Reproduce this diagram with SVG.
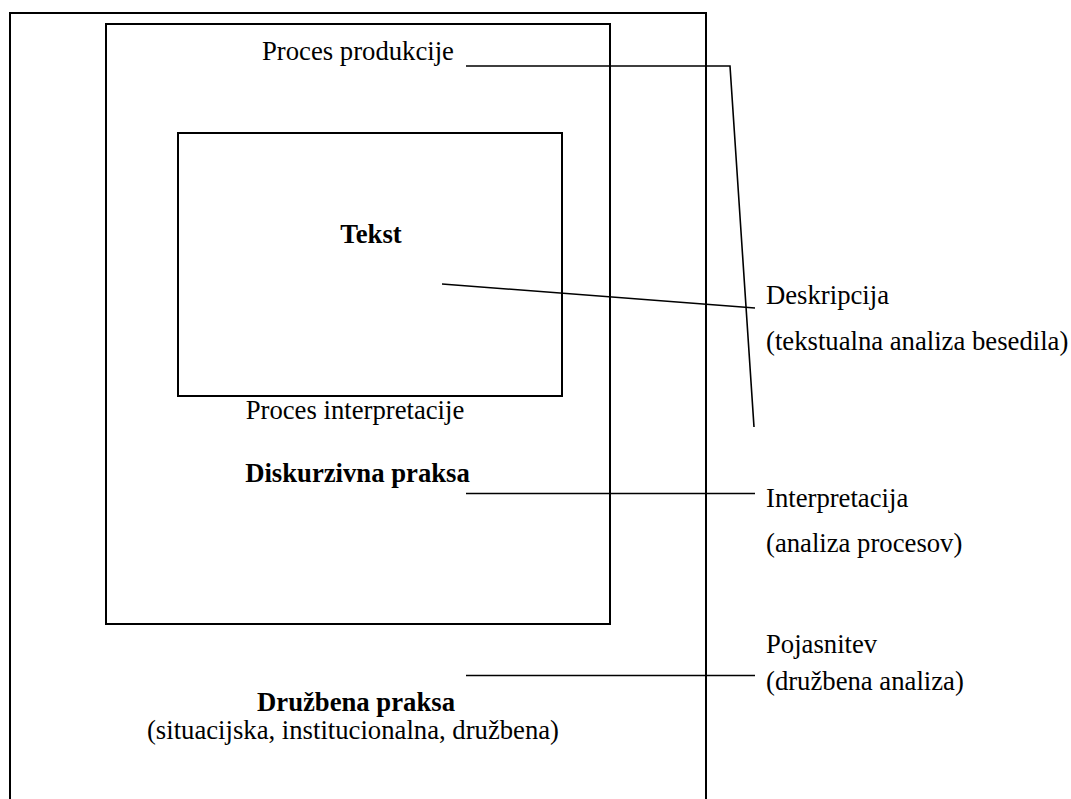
<svg xmlns="http://www.w3.org/2000/svg" width="1071" height="799" viewBox="0 0 1071 799">
<style>
.box{fill:none;stroke:#000;stroke-width:2}
.ln{fill:none;stroke:#000;stroke-width:1.6}
text{font-family:"Liberation Serif","Times New Roman",serif;font-size:26.7px;fill:#000}
.b{font-weight:bold}
.m{text-anchor:middle}
</style>
<rect width="1071" height="799" fill="#fff"/>
<g id="druzbena">
<path class="box" d="M10,800 V13 H706 V800"/>
<text class="b m" x="356" y="711">Družbena praksa</text>
<text class="m" x="353" y="739">(situacijska, institucionalna, družbena)</text>
</g>
<g id="diskurzivna">
<rect class="box" x="106" y="24" width="504" height="600"/>
<text class="m" x="358" y="60">Proces produkcije</text>
<text class="m" x="355" y="419">Proces interpretacije</text>
<text class="b m" x="357.5" y="482">Diskurzivna praksa</text>
</g>
<g id="tekst">
<rect class="box" x="178" y="133" width="384" height="263"/>
<text class="b m" x="371" y="243">Tekst</text>
</g>
<g id="deskripcija">
<text x="766" y="304">Deskripcija</text>
<text x="766" y="350">(tekstualna analiza besedila)</text>
</g>
<g id="interpretacija">
<text x="766" y="507">Interpretacija</text>
<text x="766" y="552">(analiza procesov)</text>
</g>
<g id="pojasnitev">
<text x="766" y="653">Pojasnitev</text>
<text x="766" y="690">(družbena analiza)</text>
</g>
<g id="connectors">
<polyline class="ln" points="466,66 730,66 754,427"/>
<line class="ln" x1="442" y1="284" x2="755" y2="308"/>
<line class="ln" x1="466" y1="493.5" x2="755" y2="493.5"/>
<line class="ln" x1="466" y1="675.5" x2="755" y2="675.5"/>
</g>
</svg>
